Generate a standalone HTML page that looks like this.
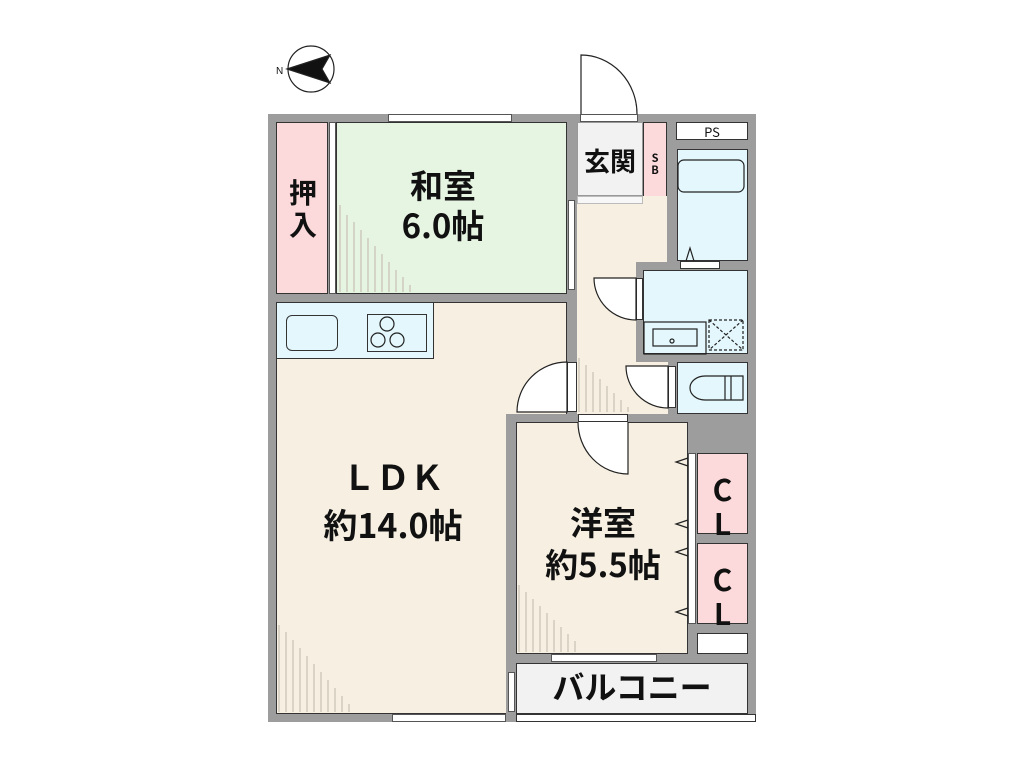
<!DOCTYPE html>
<html><head><meta charset="utf-8"><style>
body{margin:0;width:1024px;height:768px;background:#fff;position:relative;overflow:hidden;font-family:"Liberation Sans","Noto Sans CJK JP",sans-serif}
.r{position:absolute;box-sizing:border-box}
.w{background:#9d9d9d}
.t{position:absolute;font-weight:bold;color:#111;text-align:center;line-height:1;font-family:"Noto Sans CJK JP","Liberation Sans",sans-serif}
</style></head><body>
<div class="r w" style="left:268px;top:114px;width:488px;height:608px"></div>
<div class="r" style="left:276px;top:122px;width:52px;height:172px;background:#fcd9da;border:1px solid #333"></div>
<div class="r" style="left:329px;top:122px;width:7px;height:172px;background:#fff;border:1px solid #555"></div>
<div class="r" style="left:336px;top:122px;width:231px;height:172px;background:#e6f4e2;border:1px solid #333"></div>
<div class="r" style="left:577px;top:122px;width:66px;height:74px;background:#f2f2f2;border:1px solid #999"></div>
<div class="r" style="left:643px;top:122px;width:24px;height:82px;background:#fcd9da;border:1px solid #333"></div>
<div class="r" style="left:676px;top:122px;width:72px;height:18px;background:#fff;border:1px solid #333"></div>
<div class="r" style="left:677px;top:149px;width:71px;height:112px;background:#e3f7fc;border:1px solid #333"></div>
<div class="r" style="left:577px;top:196px;width:90px;height:66px;background:#f7f0e2"></div>
<div class="r" style="left:577px;top:262px;width:59px;height:152px;background:#f7f0e2"></div>
<div class="r" style="left:577px;top:362px;width:91px;height:52px;background:#f7f0e2"></div>
<div class="r" style="left:643px;top:270px;width:105px;height:84px;background:#e3f7fc;border:1px solid #333"></div>
<div class="r" style="left:677px;top:362px;width:71px;height:52px;background:#e3f7fc;border:1px solid #333"></div>
<div class="r" style="left:577px;top:196px;width:66px;height:8px;background:#f7f7f7;border:1px solid #bbb"></div>
<div class="r" style="left:276px;top:302px;width:291px;height:412px;background:#f7f0e2;border:1px solid #333"></div>
<div class="r" style="left:567px;top:302px;width:10px;height:112px;background:#9d9d9d"></div>
<div class="r" style="left:506px;top:414px;width:182px;height:308px;background:#9d9d9d"></div>
<div class="r" style="left:276px;top:302px;width:158px;height:57px;background:#e3f7fc;border:1px solid #333"></div>
<div class="r" style="left:286px;top:315px;width:52px;height:36px;border:1px solid #333;border-radius:6px;background:#e3f7fc"></div>
<div class="r" style="left:367px;top:314px;width:60px;height:38px;border:1px solid #333"></div>
<div class="r" style="left:516px;top:422px;width:172px;height:232px;background:#f7f0e2;border:1px solid #333"></div>
<div class="r" style="left:697px;top:453px;width:51px;height:81px;background:#fcd9da;border:1px solid #333"></div>
<div class="r" style="left:697px;top:543px;width:51px;height:81px;background:#fcd9da;border:1px solid #333"></div>
<div class="r" style="left:697px;top:633px;width:51px;height:21px;background:#fff;border:1px solid #333"></div>
<div class="r" style="left:688px;top:453px;width:8px;height:171px;background:#fff;border:1px solid #555"></div>
<div class="r" style="left:516px;top:663px;width:232px;height:51px;background:#f2f2f2;border:1px solid #333"></div>
<div class="r" style="left:516px;top:714px;width:240px;height:8px;background:#fff;border:1px solid #333"></div>
<div class="r" style="left:508px;top:672px;width:7px;height:40px;background:#fff;border:1px solid #555"></div>
<div class="r" style="left:388px;top:114px;width:124px;height:8px;background:#fff;border:1px solid #555"></div>
<div class="r" style="left:392px;top:714px;width:114px;height:8px;background:#fff;border:1px solid #555"></div>
<div class="r" style="left:551px;top:654px;width:106px;height:8px;background:#fff;border:1px solid #555"></div>
<div class="r" style="left:580px;top:114px;width:58px;height:8px;background:#fff;border:1px solid #555"></div>
<div class="r" style="left:568px;top:200px;width:7px;height:90px;background:#fff;border:1px solid #555"></div>
<div class="r" style="left:578px;top:414px;width:50px;height:8px;background:#fff;border:1px solid #333"></div>
<div class="r" style="left:567px;top:362px;width:10px;height:50px;background:#fff;border:1px solid #333"></div>
<div class="r" style="left:636px;top:278px;width:7px;height:42px;background:#fff;border:1px solid #333"></div>
<div class="r" style="left:668px;top:366px;width:8px;height:42px;background:#fff;border:1px solid #333"></div>
<div class="r" style="left:680px;top:261px;width:40px;height:8px;background:#fff;border:1px solid #333"></div>
<svg width="1024" height="768" style="position:absolute;left:0;top:0" fill="none" stroke="#222" stroke-width="1.2">
<circle cx="311" cy="69" r="23" fill="#fff"/>
<path d="M287 69 L330 55 L322 69 L330 83 Z" fill="#111"/>
<text x="276" y="74" font-size="10" fill="#111" stroke="none" font-family="Liberation Sans">N</text>
<path d="M581 114 V55 A56 59 0 0 1 637 114" fill="#fff"/>
<path d="M567 362 A50 50 0 0 0 517 412 H567 Z" fill="#fff"/>
<path d="M628 422 V474 A50 52 0 0 1 578 422" fill="#fff"/>
<path d="M636 278 H594 A42 42 0 0 0 636 320 Z" fill="#fff"/>
<path d="M668 366 H626 A42 42 0 0 0 668 408 Z" fill="#fff"/>
<rect x="678" y="160" width="66" height="32" rx="6" fill="#e3f7fc"/>
<rect x="644" y="322" width="62" height="32"/>
<rect x="653" y="329" width="44" height="17"/>
<circle cx="672" cy="341" r="2"/>
<rect x="709" y="320" width="34" height="30" stroke-dasharray="3 2"/>
<path d="M709 320 L743 350 M743 320 L709 350" stroke-dasharray="3 2"/>
<path d="M725 376 h-20 a15 12 0 0 0 0 24 h20 z M725 376 h6 v24 h-6 z M731 376 h12 v24 h-12z"/>
<path d="M686 261 L690 248 L694 261"/>
<circle cx="387" cy="324" r="7"/><circle cx="378" cy="340" r="7"/><circle cx="397" cy="340" r="7"/>
<path d="M688 458 L676 462 L688 466 M688 520 L676 524 L688 528 M688 548 L676 552 L688 556 M688 608 L676 612 L688 616"/>
<g stroke="#c8c0b4">
<path d="M340 205V292M347 215V292M354 222V292M361 230V292M368 238V292M375 246V292M382 254V292M389 262V292M396 270V292M403 277V292M410 285V292"/>
<path d="M279 625V712M286 632V712M293 640V712M300 648V712M307 656V712M314 664V712M321 672V712M328 680V712M335 688V712M342 696V712M349 704V712"/>
<path d="M519 585V652M526 592V652M533 599V652M540 606V652M547 613V652M554 620V652M561 627V652M568 634V652M575 641V652"/>
<path d="M579 358V412M586 365V412M593 372V412M600 379V412M607 386V412M614 393V412M621 400V412M628 407V412"/>
</g>
</svg>
<div class="t" style="left:286px;top:176px;font-size:28px;width:34px;line-height:32px">押<br>入</div>
<div class="t" style="left:343px;top:164px;width:200px;font-size:33px;line-height:40px">和室<br>6.0帖</div>
<div class="t" style="left:577px;top:148px;width:66px;font-size:26px">玄関</div>
<div class="t" style="left:643px;top:152px;width:24px;font-size:11px;line-height:12px">S<br>B</div>
<div class="t" style="left:676px;top:125px;width:72px;font-size:13px;font-weight:normal">PS</div>
<div class="t" style="left:283px;top:452px;width:220px;font-size:34px;line-height:48px">ＬＤＫ<br>約14.0帖</div>
<div class="t" style="left:493px;top:500px;width:220px;font-size:33px;line-height:42px">洋室<br>約5.5帖</div>
<div class="t" style="left:697px;top:471px;width:51px;font-size:30px;line-height:34px">C<br>L</div>
<div class="t" style="left:697px;top:561px;width:51px;font-size:30px;line-height:34px">C<br>L</div>
<div class="t" style="left:516px;top:670px;width:232px;font-size:32px">バルコニー</div>
</body></html>
